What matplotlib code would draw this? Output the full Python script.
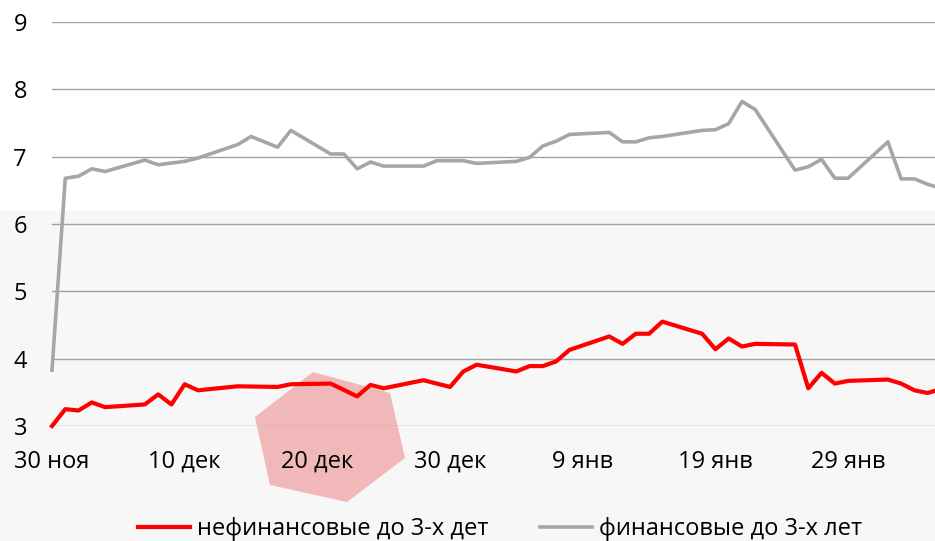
"Доходности облигаций: нефинансовые и финансовые до 3-х лет"

import matplotlib.pyplot as plt
from matplotlib.patches import Polygon, Rectangle

plt.rcParams['font.family'] = ['Open Sans', 'DejaVu Sans']

# days counted from 30 Nov
red_days = [0, 1, 2, 3, 4, 7, 8, 9, 10, 11, 14, 17, 18, 21, 23, 24, 25, 28, 30, 31, 32,
            35, 36, 37, 38, 39, 42, 43, 44, 45, 46, 49, 50, 51, 52, 53, 56, 57, 58, 59,
            60, 63, 64, 65, 66, 67]
red_vals = [3.00, 3.25, 3.23, 3.35, 3.28, 3.32, 3.47, 3.32, 3.62, 3.53, 3.59, 3.58, 3.62,
            3.63, 3.44, 3.61, 3.56, 3.68, 3.58, 3.81, 3.91, 3.81, 3.89, 3.89, 3.96, 4.13,
            4.33, 4.22, 4.37, 4.37, 4.55, 4.37, 4.14, 4.30, 4.18, 4.22, 4.21, 3.56, 3.79,
            3.63, 3.67, 3.69, 3.63, 3.53, 3.49, 3.55]

gray_days = [0, 1, 2, 3, 4, 7, 8, 10, 11, 14, 15, 17, 18, 21, 22, 23, 24, 25, 28, 29, 31,
             32, 35, 36, 37, 38, 39, 42, 43, 44, 45, 46, 49, 50, 51, 52, 53, 56, 57, 58,
             59, 60, 63, 64, 65, 66, 67]
gray_vals = [3.83, 6.68, 6.71, 6.82, 6.78, 6.95, 6.88, 6.93, 6.98, 7.18, 7.30, 7.14, 7.39,
             7.04, 7.04, 6.82, 6.92, 6.86, 6.86, 6.94, 6.94, 6.90, 6.93, 6.99, 7.16, 7.23,
             7.33, 7.36, 7.22, 7.22, 7.28, 7.30, 7.39, 7.40, 7.49, 7.82, 7.70, 6.80, 6.85,
             6.96, 6.68, 6.68, 7.22, 6.67, 6.67, 6.59, 6.53]

tick_days = [0, 10, 20, 30, 40, 50, 60]
tick_labels = ['30 ноя', '10 дек', '20 дек', '30 дек', '9 янв', '19 янв', '29 янв']

fig = plt.figure(figsize=(9.35, 5.41), dpi=100)

# background: pale lower band and a pale red hexagon
fig.patches.append(Rectangle((0, 0), 1, 0.61, transform=fig.transFigure,
                             facecolor='#f7f7f7', edgecolor='none', zorder=-3))
hex_px = [(313, 372), (390, 393), (405, 458), (347, 502), (270, 485), (255, 417)]
hex_fig = [(x / 935, 1 - y / 541) for x, y in hex_px]
fig.patches.append(Polygon(hex_fig, closed=True, transform=fig.transFigure,
                           facecolor='#efadad', edgecolor='none', alpha=0.85, zorder=-2))

ax = fig.add_axes([52 / 935, 115 / 541, 1 - 52 / 935, 404 / 541])
ax.patch.set_alpha(0)

ax.plot(red_days, red_vals, color='#ff0000', lw=3, label='нефинансовые до 3-х дет',
        clip_on=False, zorder=3)
ax.plot(gray_days, gray_vals, color='#a6a6a6', lw=2.6, label='финансовые до 3-х лет',
        clip_on=False, zorder=3)
ax.set_xlim(0, 66.55)
ax.set_ylim(3, 9)

for s in ax.spines.values():
    s.set_visible(False)
ax.set_yticks(range(3, 10))
ax.yaxis.grid(True, color='#a0a0a0', lw=1)
ax.set_axisbelow(True)
ax.set_xticks(tick_days)
ax.set_xticklabels(tick_labels)
ax.tick_params(axis='both', length=0, labelsize=17, colors='black')
ax.tick_params(axis='y', pad=18)
ax.tick_params(axis='x', pad=17)

fig.legend(loc='center', bbox_to_anchor=(0.535, 0.022), ncol=2, frameon=False,
           fontsize=17, handlelength=2.2, handletextpad=0.3, columnspacing=2.2)

fig.savefig('out.png', dpi=100)
